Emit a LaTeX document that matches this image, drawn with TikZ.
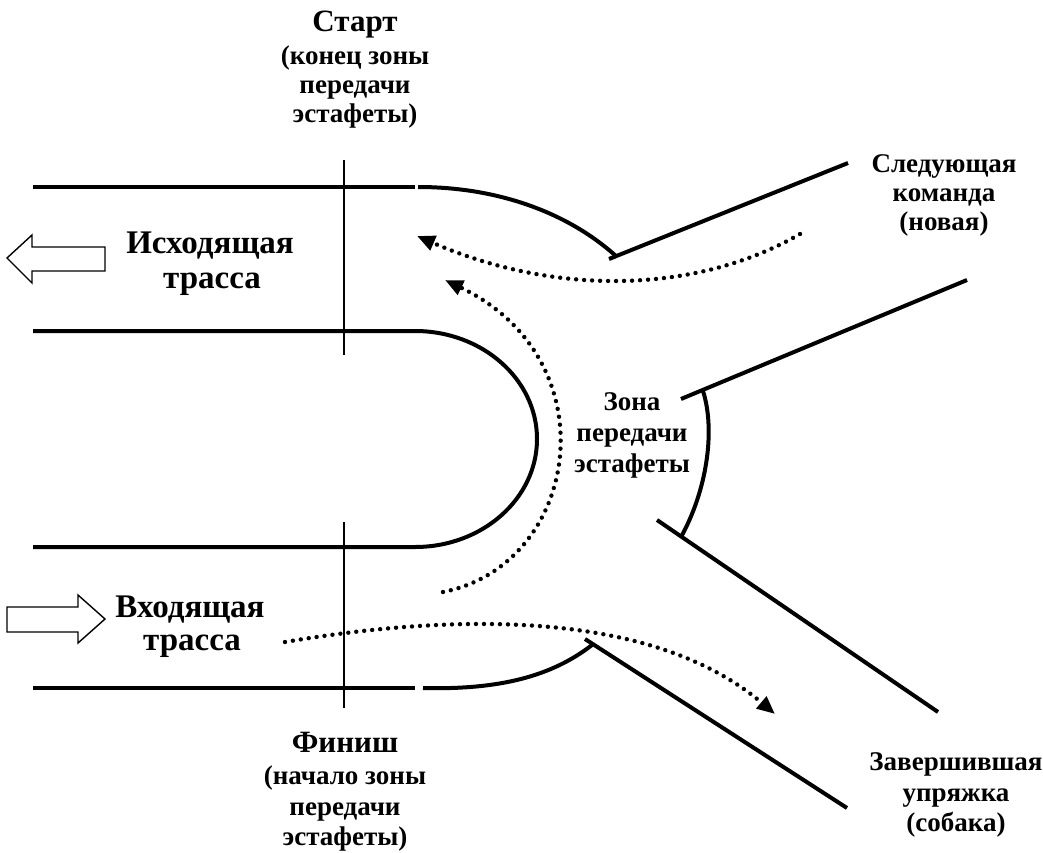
\documentclass[tikz,border=0pt]{standalone}
\usepackage{fontspec}
\setmainfont{Liberation Serif}
\usetikzlibrary{arrows.meta}
\begin{document}
\begin{tikzpicture}[x=1pt,y=-1pt,
  track/.style={line width=4pt},
  thinline/.style={line width=1.7pt},
  blockarrow/.style={line width=1.4pt},
  dotpath/.style={line width=4.4pt, line cap=round, dash pattern=on 0pt off 8pt,
    -{Triangle[length=18pt,width=15pt]}},
  bigtxt/.style={font=\fontsize{31}{31}\selectfont\bfseries, anchor=base, inner sep=0pt},
  tracktxt/.style={font=\fontsize{33}{33}\selectfont\bfseries, anchor=base, inner sep=0pt},
  smalltxt/.style={font=\fontsize{27}{27}\selectfont\bfseries, anchor=base, inner sep=0pt}]
\useasboundingbox (0,0) rectangle (1043,853);

% coordinates
\coordinate (tl1) at (33,187);  \coordinate (tr1) at (415,187);
\coordinate (tl2) at (33,331);  \coordinate (tr2) at (415,331);
\coordinate (tl3) at (33,547);  \coordinate (tr3) at (415,547);
\coordinate (tl4) at (33,688);  \coordinate (tr4) at (415,688);
\coordinate (arcTopS) at (418,187); \coordinate (arcTopE) at (617,257);
\coordinate (arcBotS) at (423,688); \coordinate (arcBotE) at (592,645);
\coordinate (vt1) at (344,160); \coordinate (vt2) at (344,355);
\coordinate (vb1) at (344,522); \coordinate (vb2) at (344,708);
\coordinate (la1) at (609,259); \coordinate (la2) at (848,163);
\coordinate (lb1) at (681,399); \coordinate (lb2) at (967,280);
\coordinate (lc1) at (657,520); \coordinate (lc2) at (938,712);
\coordinate (ld1) at (585,639); \coordinate (ld2) at (847,808);
\coordinate (raS) at (703,391); \coordinate (raE) at (681,537);

% track lines
\draw[track] (tl1) -- (tr1);
\draw[track] (arcTopS) .. controls (500,187) and (570,214) .. (arcTopE);
\draw[track] (tl2) -- (tr2) arc[start angle=-90, end angle=90, x radius=122, y radius=108] -- (tl3);
\draw[track] (tl4) -- (tr4);
\draw[track] (arcBotS) .. controls (500,690) and (552,676) .. (arcBotE);
\draw[thinline] (vt1) -- (vt2);
\draw[thinline] (vb1) -- (vb2);

% side lines
\draw[track] (la1) -- (la2);
\draw[track] (lb1) -- (lb2);
\draw[track] (lc1) -- (lc2);
\draw[track] (ld1) -- (ld2);
\draw[track] (raS) .. controls (716,432) and (706,492) .. (raE);

% dotted paths
\coordinate (d1s) at (800,234); \coordinate (d1e) at (417,236);
\coordinate (d2s) at (443,592); \coordinate (d2e) at (445,280);
\coordinate (d3s) at (285,642); \coordinate (d3e) at (775,714);
\draw[dotpath] (d1s) .. controls (700,292) and (560,298) .. (d1e);
\draw[dotpath] (d2s) .. controls (580,565) and (612,360) .. (d2e);
\draw[dotpath] (d3s) .. controls (450,614) and (650,608) .. (d3e);

% block arrows
\draw[blockarrow] (7,258) -- (32,235) -- (32,247) -- (105,247) -- (105,271) -- (32,271) -- (32,283) -- cycle;
\draw[blockarrow] (7,607) -- (78,607) -- (78,595) -- (105,619) -- (78,643) -- (78,632) -- (7,632) -- cycle;

% labels
\node[bigtxt]   (start)  at (355,32)  {Старт};
\node[smalltxt] (start1) at (355,65)  {(конец зоны};
\node[smalltxt] (start2) at (355,94)  {передачи};
\node[smalltxt] (start3) at (355,123) {эстафеты)};

\node[bigtxt]   (fin)  at (345,752) {Финиш};
\node[smalltxt] (fin1) at (345,784) {(начало зоны};
\node[smalltxt] (fin2) at (345,815) {передачи};
\node[smalltxt] (fin3) at (345,845) {эстафеты)};

\node[tracktxt] (out1) at (210,253) {Исходящая};
\node[tracktxt] (out2) at (212,288) {трасса};
\node[tracktxt] (in1)  at (190,617) {Входящая};
\node[tracktxt] (in2)  at (192,650) {трасса};

\node[smalltxt] (next1) at (944,172) {Следующая};
\node[smalltxt] (next2) at (944,201) {команда};
\node[smalltxt] (next3) at (944,230) {(новая)};

\node[smalltxt] (zone1) at (632,410) {Зона};
\node[smalltxt] (zone2) at (632,441) {передачи};
\node[smalltxt] (zone3) at (632,472) {эстафеты};

\node[smalltxt] (done1) at (956,770) {Завершившая};
\node[smalltxt] (done2) at (956,801) {упряжка};
\node[smalltxt] (done3) at (956,831) {(собака)};
\end{tikzpicture}
\end{document}
